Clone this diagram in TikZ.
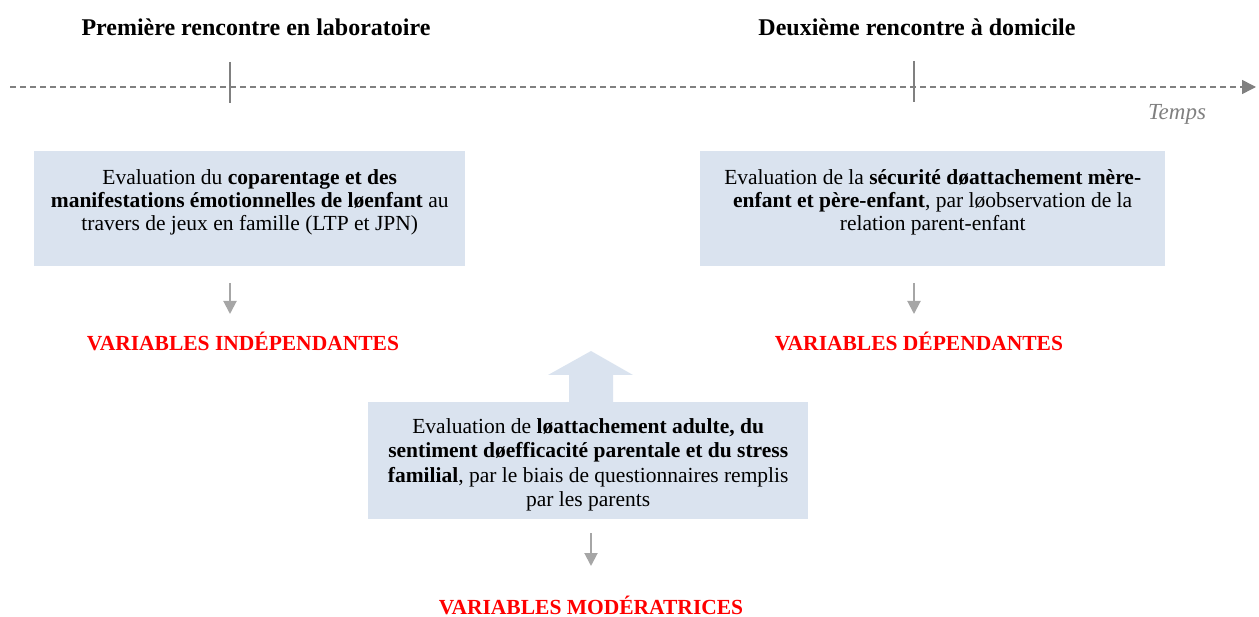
\documentclass[tikz,border=0pt]{standalone}
\usepackage{fontspec}
\setmainfont{Liberation Serif}
\usetikzlibrary{arrows.meta}
\definecolor{boxblue}{HTML}{DAE3EF}
\definecolor{arrgray}{HTML}{A6A6A6}
\definecolor{linegray}{HTML}{808080}
\definecolor{vred}{HTML}{FF0000}
\tikzset{
  box/.style={fill=boxblue, draw=none, anchor=north west, inner sep=0pt},
  title/.style={font=\fontsize{24}{28}\selectfont\bfseries},
  varlab/.style={font=\fontsize{21.5}{24}\selectfont\bfseries, text=vred, inner sep=0pt},
  downarr/.style={draw=arrgray, line width=2pt, -{Triangle[width=13pt,length=13pt]}},
  tick/.style={draw=linegray, line width=1.5pt},
}
\newcommand{\boxtext}[4]{\parbox[c][#2pt][t]{#1pt}{\centering\fontsize{21.5}{#3}\selectfont\vspace{18pt}#4}}
\begin{document}
\begin{tikzpicture}[x=1pt,y=-1pt]
\useasboundingbox (0,0) rectangle (1259,617);
% titles
\node[title] (t1) at (256,27) {Première rencontre en laboratoire};
\node[title] (t2) at (917,27) {Deuxième rencontre à domicile};
% timeline
\coordinate (tl0) at (10,87);
\coordinate (tl1) at (1256,87);
\draw[draw=linegray, line width=1.5pt, dash pattern=on 6pt off 4pt, -{Triangle[width=14pt,length=14pt]}] (tl0) -- (tl1);
\coordinate (k1a) at (230,62); \coordinate (k1b) at (230,103);
\coordinate (k2a) at (914,61); \coordinate (k2b) at (914,102);
\draw[tick] (k1a) -- (k1b);
\draw[tick] (k2a) -- (k2b);
\node[font=\fontsize{23}{26}\selectfont\itshape, text=linegray] (temps) at (1177,114) {Temps};
% boxes
\node[box, minimum width=431pt, minimum height=115pt] (b1) at (34,151)
  {\boxtext{425}{115}{23}{Evaluation du \textbf{coparentage et des}\\ \textbf{manifestations émotionnelles de løenfant} au\\ travers de jeux en famille (LTP et JPN)}};
\node[box, minimum width=465pt, minimum height=115pt] (b2) at (700,151)
  {\boxtext{460}{115}{23}{Evaluation de la \textbf{sécurité døattachement mère-}\\ \textbf{enfant et père-enfant}, par løobservation de la\\ relation parent-enfant}};
\node[box, minimum width=440pt, minimum height=117pt] (b3) at (368,402)
  {\boxtext{435}{117}{24.5}{\vspace{-2pt}Evaluation de \textbf{løattachement adulte, du}\\ \textbf{sentiment døefficacité parentale et du stress}\\ \textbf{familial}, par le biais de questionnaires remplis\\ par les parents}};
% block arrow up
\coordinate (ba) at (591,402);
\fill[boxblue] ([xshift=-22pt]ba) -- ++(0,-27) -- ++(-21,0) -- ++(43,-24) -- ++(42,24) -- ++(-20,0) -- ++(0,27) -- cycle;
% labels
\node[varlab] (v1) at (243,341) {VARIABLES INDÉPENDANTES};
\node[varlab] (v2) at (919,341) {VARIABLES DÉPENDANTES};
\node[varlab] (v3) at (591,605) {VARIABLES MODÉRATRICES};
% down arrows
\coordinate (a1s) at (230,283); \coordinate (a1e) at (230,314);
\coordinate (a2s) at (914,283); \coordinate (a2e) at (914,314);
\coordinate (a3s) at (591,533); \coordinate (a3e) at (591,566);
\draw[downarr] (a1s) -- (a1e);
\draw[downarr] (a2s) -- (a2e);
\draw[downarr] (a3s) -- (a3e);
\end{tikzpicture}
\end{document}
